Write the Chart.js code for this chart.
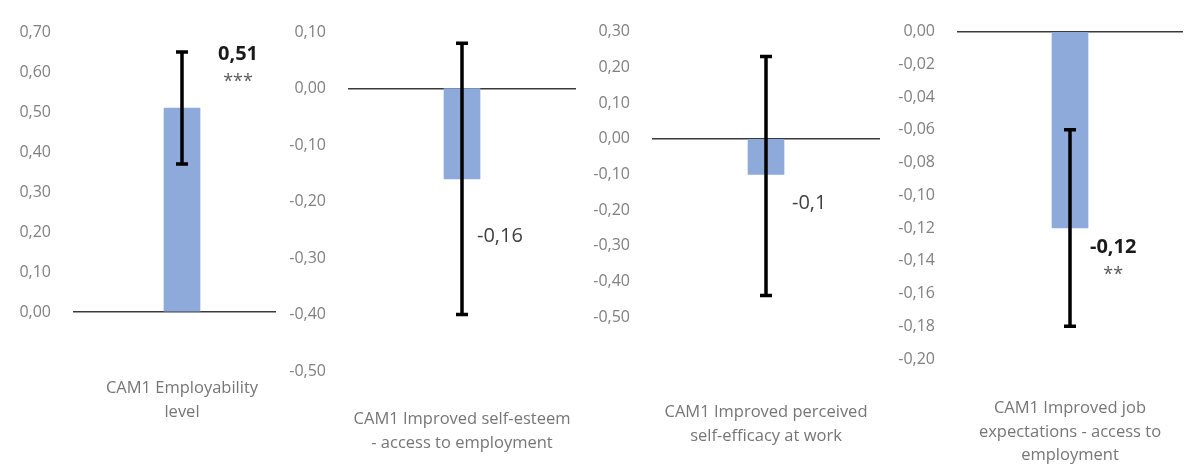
<!DOCTYPE html>
<html>
<head>
<meta charset="utf-8">
<script src="https://cdn.jsdelivr.net/npm/chart.js@4.4.1/dist/chart.umd.min.js"></script>
<style>
    body { margin: 0; background: #fff; }
    #wrap { position: relative; width: 1188px; height: 465px; overflow: hidden; }
    .panel { position: absolute; top: 0; height: 465px; }
</style>
</head>
<body>
<div id="wrap">
    <div class="panel" style="left:0;width:283px"><canvas id="c0"></canvas></div>
    <div class="panel" style="left:283px;width:300px"><canvas id="c1"></canvas></div>
    <div class="panel" style="left:583px;width:300px"><canvas id="c2"></canvas></div>
    <div class="panel" style="left:883px;width:305px"><canvas id="c3"></canvas></div>
</div>
<script>
// Data
const categories = [
    ['CAM1 Employability', 'level'],
    ['CAM1 Improved self-esteem', '- access to employment'],
    ['CAM1 Improved perceived', 'self-efficacy at work'],
    ['CAM1 Improved job', 'expectations - access to', 'employment']
];
const values = [0.51, -0.16, -0.1, -0.12];
const errLow = [0.37, -0.40, -0.44, -0.18];
const errHigh = [0.65, 0.08, 0.23, -0.06];
const valueLabels = ['0,51', '-0,16', '-0,1', '-0,12'];
const stars = ['***', '', '', '**'];
const axisMin = [0, -0.5, -0.5, -0.2];
const axisMax = [0.7, 0.1, 0.3, 0];
const axisStep = [0.1, 0.1, 0.1, 0.02];

// Layout of each panel (pixels inside its own canvas)
const panels = [
    { axisWidth: 88, tickLen: 15, padRight: 7, top: 32, bottom: 312, catPad: 57, labelAt: 0.645, labelDx: 36, bold: true },
    { axisWidth: 65, tickLen: 0, padRight: 7, top: 32, bottom: 371, catPad: 29, labelAt: -0.262, labelDx: 15, bold: false },
    { axisWidth: 69, tickLen: 0, padRight: 3, top: 18, bottom: 317, catPad: 76, labelAt: -0.18, labelDx: 26, bold: false },
    { axisWidth: 74, tickLen: 0, padRight: 5, top: 20, bottom: 359, catPad: 30, labelAt: -0.1316, labelDx: 20, bold: true }
];

const FONT = '"Open Sans", "Noto Sans", sans-serif';

const errorBars = {
    id: 'errorBars',
    afterDatasetsDraw(chart) {
        const i = chart.options.plugins.errorBars.index;
        const p = panels[i];
        const ctx = chart.ctx;
        const yScale = chart.scales.y;
        const x = chart.getDatasetMeta(0).data[0].x;
        const top = yScale.getPixelForValue(errHigh[i]);
        const bot = yScale.getPixelForValue(errLow[i]);
        ctx.save();
        ctx.strokeStyle = '#000';
        ctx.lineWidth = 3.5;
        ctx.beginPath();
        ctx.moveTo(x, top);
        ctx.lineTo(x, bot);
        ctx.moveTo(x - 6, top);
        ctx.lineTo(x + 6, top);
        ctx.moveTo(x - 6, bot);
        ctx.lineTo(x + 6, bot);
        ctx.stroke();

        // value label
        const ly = yScale.getPixelForValue(p.labelAt);
        ctx.textBaseline = 'middle';
        ctx.textAlign = 'left';
        ctx.fillStyle = p.bold ? '#1a1a1a' : '#404040';
        ctx.font = (p.bold ? 'bold ' : '') + '20px ' + FONT;
        ctx.fillText(valueLabels[i], x + p.labelDx, ly);
        if (stars[i]) {
            const w = ctx.measureText(valueLabels[i]).width;
            ctx.font = '18px ' + FONT;
            ctx.fillStyle = '#595959';
            ctx.textAlign = 'center';
            ctx.fillText(stars[i], x + p.labelDx + w / 2, ly + 28);
        }
        ctx.restore();
    }
};

function fmt(v) {
    if (Math.abs(v) < 1e-9) return '0,00';
    return v.toFixed(2).replace('.', ',');
}

function initPanel(i) {
    const p = panels[i];
    const canvas = document.getElementById('c' + i);
    return new Chart(canvas, {
        type: 'bar',
        data: {
            labels: [categories[i]],
            datasets: [{
                data: [values[i]],
                backgroundColor: '#8eaadb',
                barThickness: 36
            }]
        },
        options: {
            responsive: true,
            maintainAspectRatio: false,
            animation: false,
            layout: {
                padding: { top: p.top, right: p.padRight, left: 0, bottom: 0 }
            },
            scales: {
                y: {
                    min: axisMin[i],
                    max: axisMax[i],
                    afterFit: function(scale) { scale.width = p.axisWidth; },
                    border: { display: false },
                    grid: {
                        color: (c) => Math.abs(c.tick.value) < 1e-9 ? '#3a3a3a' : 'rgba(0,0,0,0)',
                        lineWidth: 1.5,
                        drawTicks: p.tickLen > 0,
                        tickLength: p.tickLen
                    },
                    ticks: {
                        stepSize: axisStep[i],
                        padding: 22,
                        color: '#808080',
                        font: { family: FONT, size: 16 },
                        callback: (v) => fmt(v)
                    }
                },
                x: {
                    afterFit: function(scale) {
                        scale.height = 465 - p.bottom;
                        scale.paddingLeft = 0;
                        scale.paddingRight = 0;
                    },
                    border: { display: false },
                    grid: { display: false },
                    ticks: {
                        padding: p.catPad,
                        maxRotation: 0,
                        color: '#767676',
                        font: { family: FONT, size: 16.5, lineHeight: 1.42 }
                    }
                }
            },
            plugins: {
                legend: { display: false },
                tooltip: { enabled: false },
                errorBars: { index: i }
            }
        },
        plugins: [errorBars]
    });
}

document.addEventListener('DOMContentLoaded', function() {
    for (let i = 0; i < 4; i++) initPanel(i);
});
</script>
</body>
</html>
